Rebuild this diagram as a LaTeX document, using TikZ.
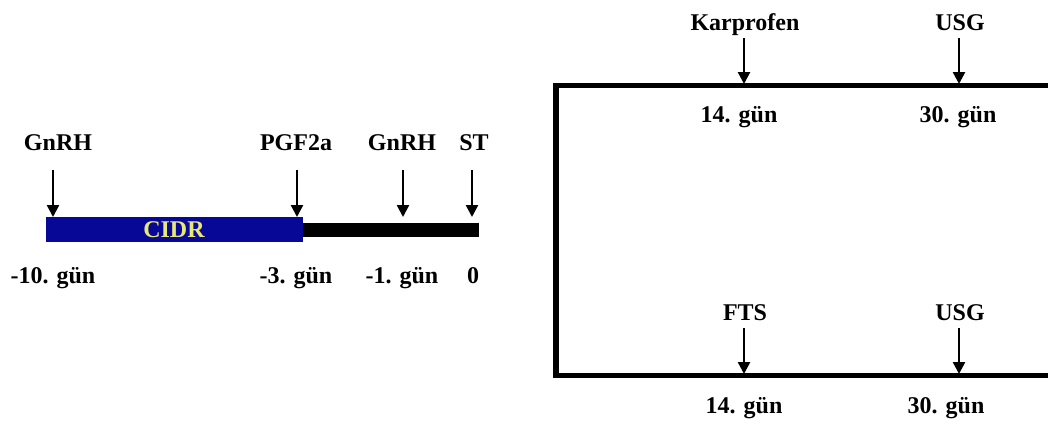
\documentclass[tikz,border=0pt]{standalone}
\usepackage{fontspec}
\setmainfont{Liberation Serif}
\usetikzlibrary{arrows.meta}
\definecolor{cidrblue}{RGB}{8,8,150}
\definecolor{cidryellow}{RGB}{232,232,120}
\begin{document}
\begin{tikzpicture}[x=1pt,y=-1pt,
  lbl/.style={font=\fontsize{24}{28}\selectfont\bfseries, anchor=base, inner sep=0pt},
  arr/.style={line width=2.5pt, -{Triangle[width=12pt,length=12pt]}},
  frame/.style={line width=5.5pt, line join=miter}]
\fill[white] (0,0) rectangle (1048,423);
\useasboundingbox (0,0) rectangle (1048,423);

% left timeline
\fill[cidrblue] (46,217) rectangle (303,242);
\fill[black] (303,223) rectangle (479,237);
\node[lbl, text=cidryellow] (cidr) at (174,237) {CIDR};

\node[lbl] (t1) at (58,150) {GnRH};
\node[lbl] (t2) at (296,150) {PGF2a};
\node[lbl] (t3) at (402,150) {GnRH};
\node[lbl] (t4) at (474,150) {ST};

\node[lbl] (b1) at (53,283) {-10. gün};
\node[lbl] (b2) at (296,283) {-3. gün};
\node[lbl] (b3) at (402,283) {-1. gün};
\node[lbl] (b4) at (473,283) {0};

\coordinate (s1) at (53,170);  \coordinate (e1) at (53,217);
\coordinate (s2) at (297,170); \coordinate (e2) at (297,217);
\coordinate (s3) at (403,170); \coordinate (e3) at (403,217);
\coordinate (s4) at (472,170); \coordinate (e4) at (472,217);
\draw[arr] (s1) -- (e1);
\draw[arr] (s2) -- (e2);
\draw[arr] (s3) -- (e3);
\draw[arr] (s4) -- (e4);

% right frame
\coordinate (fa) at (1048,85.5);
\coordinate (fb) at (556,85.5);
\coordinate (fc) at (556,375.5);
\coordinate (fd) at (1048,375.5);
\draw[frame] (fa) -- (fb) -- (fc) -- (fd);

\node[lbl] (k) at (745,30) {Karprofen};
\node[lbl] (u1) at (960,30) {USG};
\node[lbl] (d1) at (739,122) {14. gün};
\node[lbl] (d2) at (958,122) {30. gün};

\node[lbl] (f) at (745,320) {FTS};
\node[lbl] (u2) at (960,320) {USG};
\node[lbl] (d3) at (744,413) {14. gün};
\node[lbl] (d4) at (946,413) {30. gün};

\coordinate (ks) at (744,38);  \coordinate (ke) at (744,84);
\coordinate (us) at (959,38);  \coordinate (ue) at (959,84);
\coordinate (fs) at (744,328); \coordinate (fe) at (744,374);
\coordinate (vs) at (959,328); \coordinate (ve) at (959,374);
\draw[arr] (ks) -- (ke);
\draw[arr] (us) -- (ue);
\draw[arr] (fs) -- (fe);
\draw[arr] (vs) -- (ve);
\end{tikzpicture}
\end{document}
